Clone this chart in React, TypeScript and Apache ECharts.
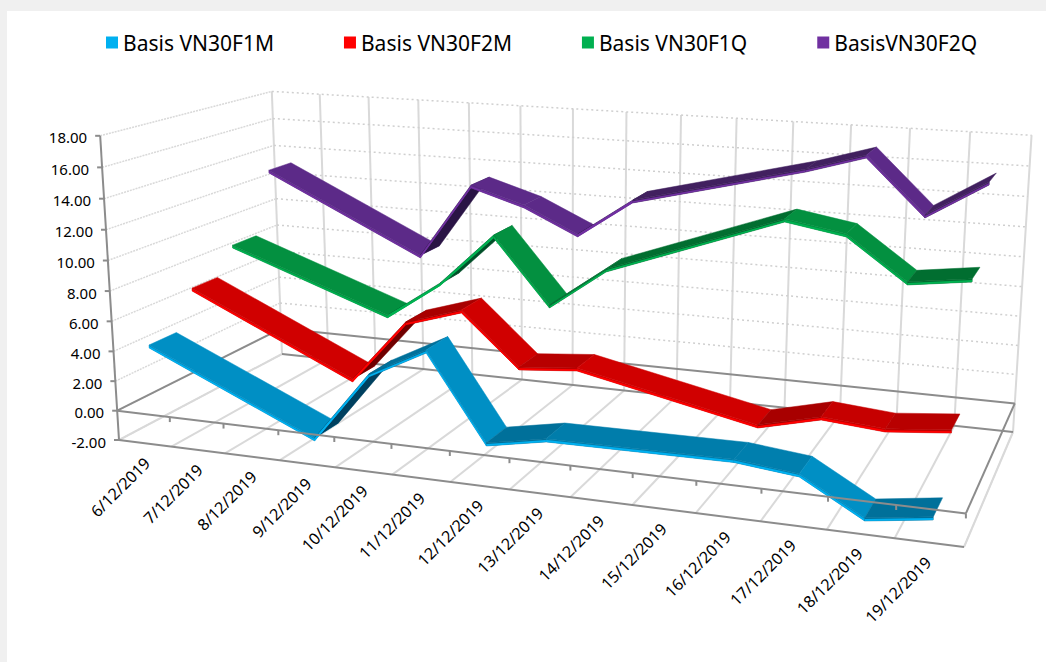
import React, { useEffect, useRef } from "react";
import * as echarts from "echarts";

const categories = ["6/12/2019","7/12/2019","8/12/2019","9/12/2019","10/12/2019","11/12/2019","12/12/2019","13/12/2019","14/12/2019","15/12/2019","16/12/2019","17/12/2019","18/12/2019","19/12/2019"];
const valueTicks = [-2,0,2,4,6,8,10,12,14,16,18];
const seriesNames = ["Basis VN30F1M","Basis VN30F2M","Basis VN30F1Q","BasisVN30F2Q"];
const basis1M = [4.33,null,null,-0.63,3.99,5.92,0.40,1.11,null,null,1.2,0.79,-1.41,-0.84];
const basis2M = [6.85,null,null,1.72,5.96,7.12,3.74,4.07,null,null,1.64,2.59,2.27,2.65];
const basis1Q = [8.66,null,null,4.72,7.29,10.88,6.48,9.24,null,null,13.42,12.77,10.06,10.58];
const basis2Q = [13.01,null,null,7.73,12.99,11.87,10.14,12.78,null,null,15.65,16.81,13.20,15.60];

const Q = [[119,440],[964,547],[1013,432],[282,354]];
const [x0,y0]=Q[0],[x1,y1]=Q[1],[x2,y2]=Q[2],[x3,y3]=Q[3];
const dx1=x1-x2,dx2=x3-x2,sx=x0-x1+x2-x3,dy1=y1-y2,dy2=y3-y2,sy=y0-y1+y2-y3;
const det=dx1*dy2-dx2*dy1;
const g=(sx*dy2-dx2*sy)/det,h=(dx1*sy-sx*dy1)/det;
const a=x1-x0+g*x1,b=x3-x0+h*x3,c=x0,d_=y1-y0+g*y1,e=y3-y0+h*y3,f=y0;
const cons:number[][]=[[0,0,1,102,137],[0,1,1,270,92],[1,1,1,1032,133],[0,0,.1,118,411],[1,0,.1,964,513],[1,1,.1,1015,403],[0,1,.1,280,333]];
function solveC(){
  const A=[[0,0,0],[0,0,0],[0,0,0]],B=[0,0,0];
  for(const [u,dd,w,px,py] of cons){
    const D=g*u+h*dd+1,Nx=a*u+b*dd+c,Ny=d_*u+e*dd+f;
    const rows=[[w,0,-px*w,px*D-Nx],[0,w,-py*w,py*D-Ny]];
    for(const r of rows){for(let i=0;i<3;i++){for(let j=0;j<3;j++)A[i][j]+=r[i]*r[j];B[i]+=r[i]*r[3];}}
  }
  const m=A.map((r,i)=>[...r,B[i]]);
  for(let i=0;i<3;i++){let p=i;for(let k=i+1;k<3;k++)if(Math.abs(m[k][i])>Math.abs(m[p][i]))p=k;[m[i],m[p]]=[m[p],m[i]];
    for(let k=0;k<3;k++){if(k!==i){const t=m[k][i]/m[i][i];for(let j=i;j<4;j++)m[k][j]-=t*m[i][j];}}}
  return [m[0][3]/m[0][0],m[1][3]/m[1][1],m[2][3]/m[2][2]];
}
const [cx,cy,cw]=solveC();
function proj(u:number,dd:number,w:number):number[]{
  const W=g*u+h*dd+1+cw*w;
  return [(a*u+b*dd+c+cx*w)/W,(d_*u+e*dd+f+cy*w)/W];
}
const toW=(v:number)=>(v+2)/20;
const D0=.05,D1=.20,STEP=.25,THICK=.2,BRIGHT=.12;

const palette=[
 {bright:"#00b0f0",base:"#008fc4",soft:"#007fae",mid:"#007dab",deep:"#00709a",dark:"#00405f"},
 {bright:"#ff0000",base:"#d00000",soft:"#c60000",mid:"#b80000",deep:"#a80000",dark:"#700000"},
 {bright:"#00b050",base:"#039040",soft:"#028a3c",mid:"#027d38",deep:"#016e30",dark:"#004f28"},
 {bright:"#7030a0",base:"#5c2a88",soft:"#54277d",mid:"#4a2270",deep:"#41205f",dark:"#2a1445"},
];
const legendColors=palette.map(p=>p.bright);
const allValues=[basis1M,basis2M,basis1Q,basis2Q];

export default function App(){
  const el=useRef<HTMLDivElement>(null);
  useEffect(()=>{
    document.body.style.margin="0";
    const chart=echarts.init(el.current!,undefined,{renderer:"svg"});
    const norm=(api:any,i:number,v:number)=>{const p=api.coord([i,v]);return [p[0]/api.getWidth(),1-p[1]/api.getHeight()];};
    const ribbonSeries=allValues.map((vals,k)=>{
      const pts=vals.map((v,i)=>[i,v]).filter(p=>p[1]!==null) as number[][];
      return {
        type:"custom",name:seriesNames[k],coordinateSystem:"cartesian2d",animation:false,silent:true,clip:false,z:10-k,
        itemStyle:{color:legendColors[k]},
        data:pts,encode:{x:0,y:1},
        renderItem:(params:any,api:any)=>{
          const n=params.dataIndex;
          if(n>=pts.length-1)return null;
          const A=norm(api,pts[n][0],pts[n][1]),B=norm(api,pts[n+1][0],pts[n+1][1]);
          const d0=D0+k*STEP,d1=D1+k*STEP,tw=THICK/20,bw=BRIGHT/20;
          const q=[proj(A[0],d0,A[1]),proj(B[0],d0,B[1]),proj(B[0],d1,B[1]),proj(A[0],d1,A[1])];
          let area=0;for(let m=0;m<4;m++){const s=q[m],t=q[(m+1)%4];area+=s[0]*t[1]-t[0]*s[1];}
          const delta=(pts[n+1][1]-pts[n][1])/(pts[n+1][0]-pts[n][0]);
          const col=palette[k];
          const flipped=area>0;
          const fill=flipped?col.dark:(delta< -0.6?col.base:(delta< -0.1?col.soft:(delta>0.5?col.deep:col.mid)));
          const upper=[q[0],q[1],proj(B[0],d0,B[1]-tw),proj(A[0],d0,A[1]-tw)];
          const lower=[proj(A[0],d0,A[1]-tw+bw),proj(B[0],d0,B[1]-tw+bw),proj(B[0],d0,B[1]-tw),proj(A[0],d0,A[1]-tw)];
          return {type:"group",children:[
            {type:"polygon",shape:{points:q},style:{fill,stroke:fill,lineWidth:.5}},
            {type:"polygon",shape:{points:upper},style:flipped?{fill:col.bright}:{fill,stroke:fill,lineWidth:.5}},
            {type:"polygon",shape:{points:lower},style:{fill:col.bright}},
          ]};
        },
      };
    });
    const line=(p:number[],q:number[],stroke:string,lineWidth:number,lineDash?:number[])=>({type:"line",shape:{x1:p[0],y1:p[1],x2:q[0],y2:q[1]},style:{stroke,lineWidth,lineDash}});
    const LG="#d9d9d9",DG="#8c8c8c";
    const frameBack={
      type:"custom",coordinateSystem:"cartesian2d",animation:false,silent:true,clip:false,z:1,data:[[0,0]],encode:{x:0,y:1},
      renderItem:()=>{
        const ch:any[]=[];
        for(let i=0;i<=14;i++){
          const u=i/14;
          ch.push(line(proj(u,0,0),proj(u,1,0),LG,2));
          ch.push(line(proj(u,1,0),proj(u,1,1),LG,2));
        }
        valueTicks.forEach(v=>{
          const w=toW(v);
          ch.push(line(proj(0,0,w),proj(0,1,w),LG,1.5,[2,1]));
          if(v>0)ch.push(line(proj(0,1,w),proj(1,1,w),"#cfcfcf",1.5,[2,3]));
        });
        const w0=toW(0);
        ch.push(line(proj(1,0,0),proj(1,1,0),LG,1.5));
        ch.push(line(proj(0,1,0),proj(1,1,0),DG,2));
        ch.push(line(proj(0,1,w0),proj(1,1,w0),DG,2));
        ch.push(line(proj(0,0,w0),proj(0,1,w0),DG,2));
        ch.push(line(proj(1,0,w0),proj(1,1,w0),DG,2));
        ch.push(line(proj(0,0,0),proj(1,0,0),DG,2));
        ch.push(line(proj(0,0,0),proj(0,0,1),DG,2));
        valueTicks.forEach(v=>{
          const p=proj(0,0,toW(v));
          ch.push(line([p[0]-5,p[1]],p,DG,2));
          ch.push({type:"text",x:p[0]-13,y:p[1]+1.5,style:{text:v.toFixed(2),fill:"#000",font:"15px 'Noto Sans'",align:"right",verticalAlign:"middle",textAlign:"right",textVerticalAlign:"middle"}});
        });
        categories.forEach((t,i)=>{
          const p=proj((i+.5)/14,0,0);
          ch.push({type:"text",x:p[0]+2-3*i/13,y:p[1]+17,rotation:Math.PI/4,style:{text:t,fill:"#000",font:"16px 'Noto Sans'",align:"right",verticalAlign:"middle",textAlign:"right",textVerticalAlign:"middle"}});
        });
        return {type:"group",children:ch};
      },
    };
    const frameFront={
      type:"custom",coordinateSystem:"cartesian2d",animation:false,silent:true,clip:false,z:20,data:[[0,0]],encode:{x:0,y:1},
      renderItem:()=>{
        const ch:any[]=[];const w0=toW(0);
        ch.push(line(proj(0,0,w0),proj(1,0,w0),DG,2));
        for(let i=1;i<=14;i++){const p=proj(i/14,0,w0);ch.push(line(p,[p[0],p[1]+5],DG,2));}
        return {type:"group",children:ch};
      },
    };
    chart.setOption({
      animation:false,backgroundColor:"transparent",
      grid:{left:0,right:0,top:0,bottom:0},
      xAxis:{type:"category",data:categories,show:false},
      yAxis:{type:"value",min:-2,max:18,interval:2,show:false},
      legend:{data:seriesNames,left:106,top:32,padding:0,itemWidth:12,itemHeight:12,itemGap:70,icon:"rect",selectedMode:false,textStyle:{fontSize:21,fontFamily:"Noto Sans",color:"#000"}},
      series:[frameBack,...ribbonSeries,frameFront],
    });
    return ()=>chart.dispose();
  },[]);
  return <div style={{position:"relative",width:1046,height:662,background:"#f0f0f0",overflow:"hidden"}}>
    <div style={{position:"absolute",left:7,top:11,right:0,bottom:0,background:"#fff"}}/>
    <div ref={el} style={{position:"absolute",left:0,top:0,width:1046,height:662}}/>
  </div>;
}
